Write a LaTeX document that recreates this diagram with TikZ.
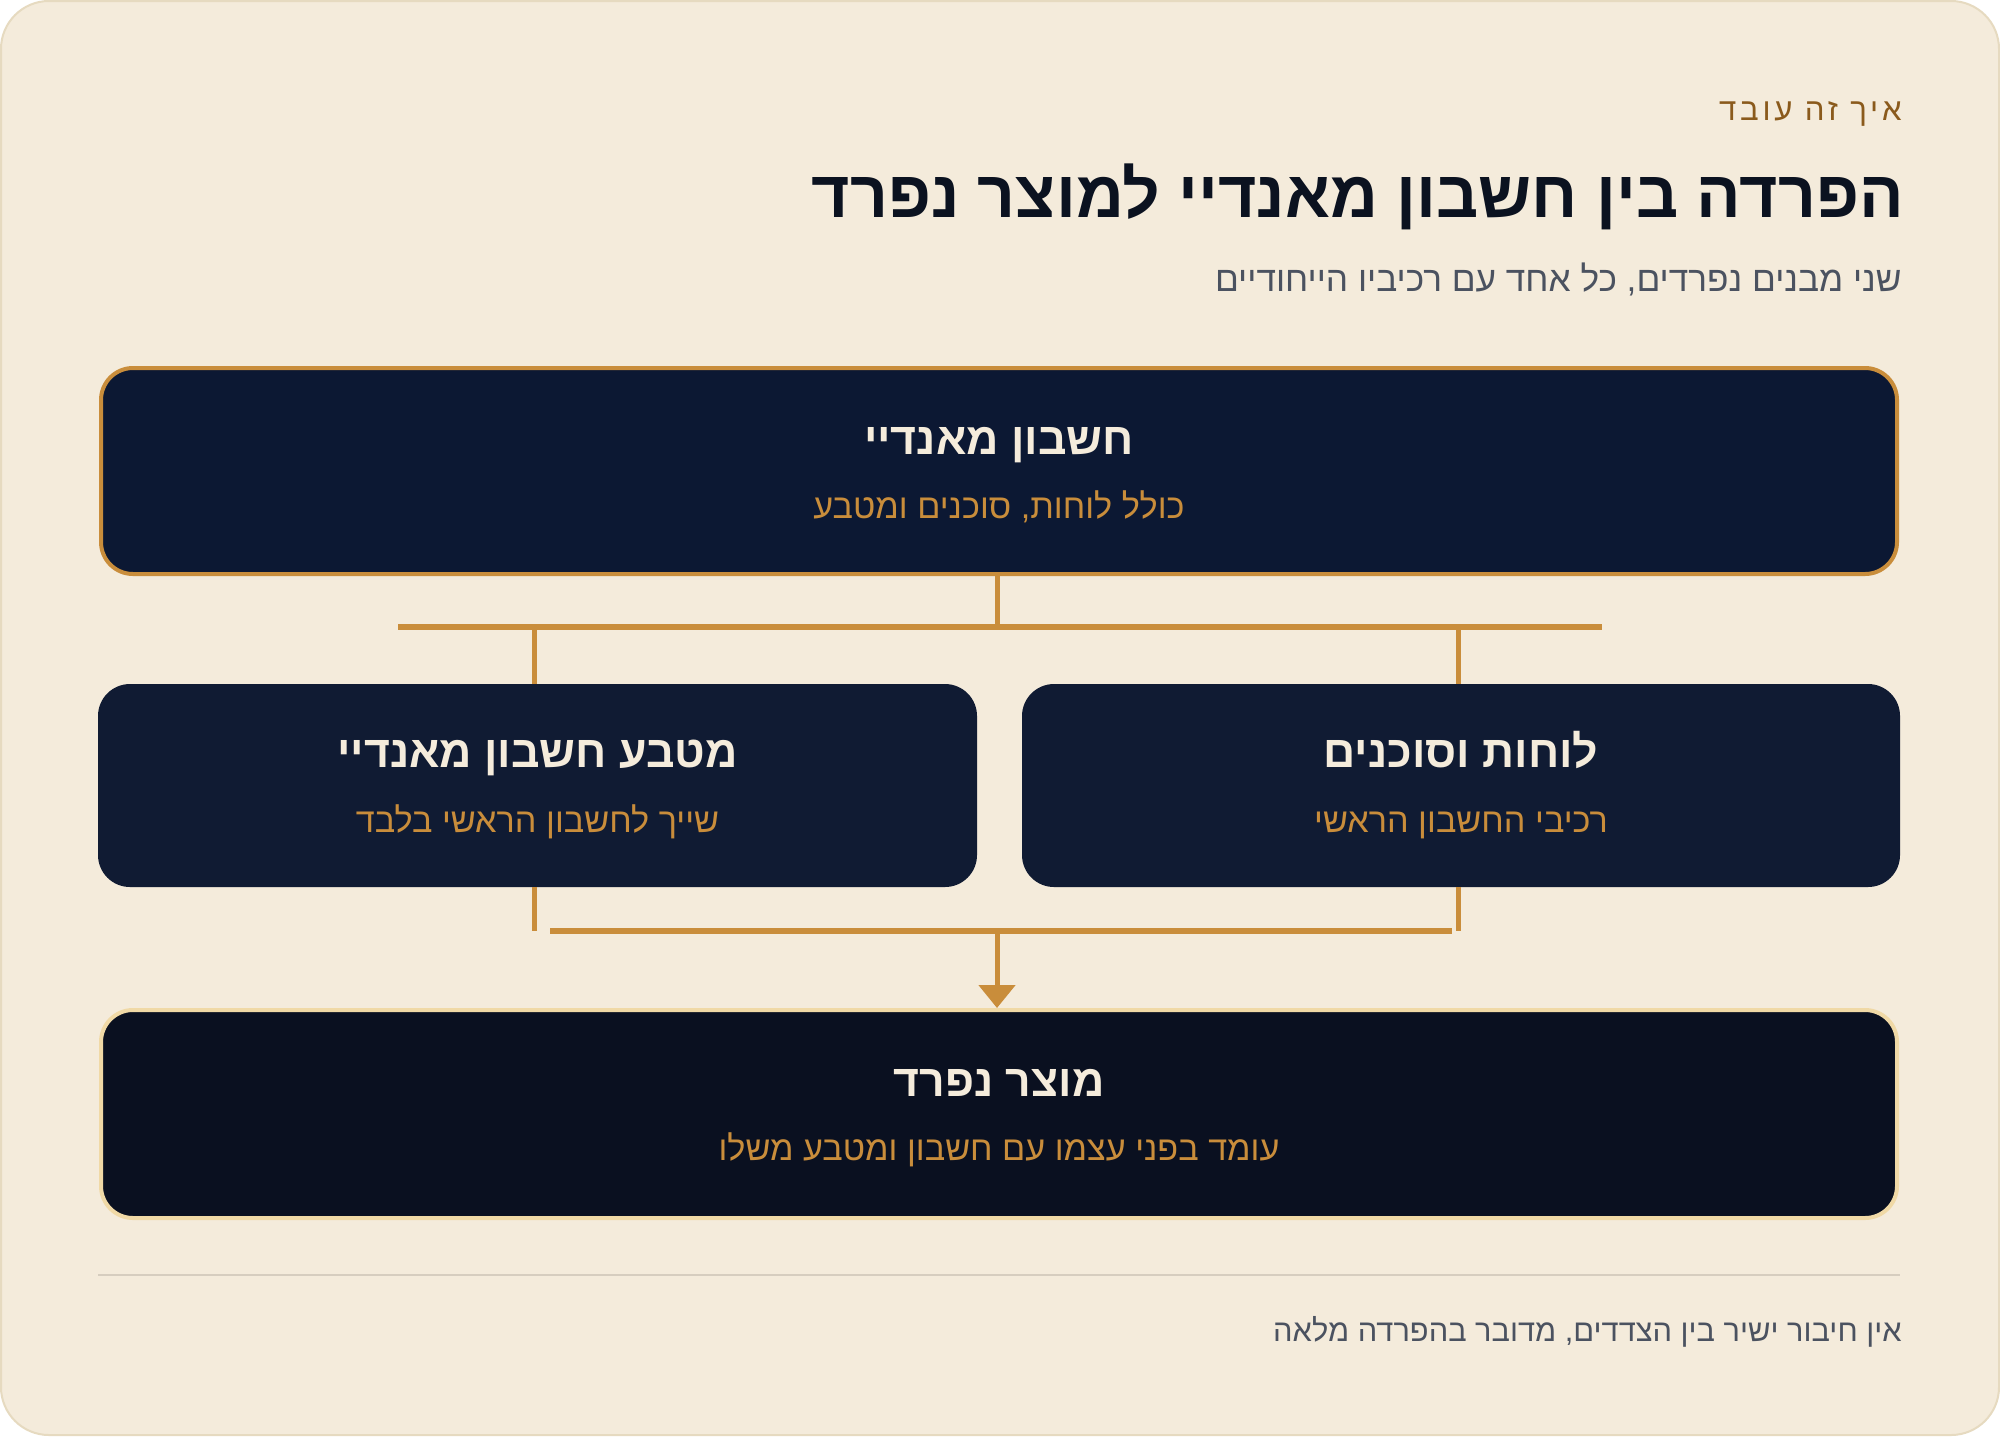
\documentclass[tikz,border=0pt]{standalone}
\usepackage{fontspec}
\setmainfont[Script=Hebrew]{Liberation Sans}
\newfontfamily\eyebrowfont[Script=Hebrew,LetterSpace=12]{Liberation Sans}
\TeXXeTstate=1
\usetikzlibrary{arrows.meta}

\definecolor{cardbg}{HTML}{F4EBDB}
\definecolor{cardline}{HTML}{E6DAC0}
\definecolor{navytop}{HTML}{0C1833}
\definecolor{navymid}{HTML}{101B33}
\definecolor{navylow}{HTML}{0A1020}
\definecolor{gold}{HTML}{C98D3B}
\definecolor{palegold}{HTML}{F0D9A6}
\definecolor{cream}{HTML}{F5ECDC}
\definecolor{slate}{HTML}{4B5260}
\definecolor{brown}{HTML}{8A5A1C}
\definecolor{ink}{HTML}{0B1220}
\definecolor{rulegray}{HTML}{D6CDBF}

\newcommand{\heb}[1]{\beginR #1\endR}

\tikzset{
  box/.style={rectangle, rounded corners=16pt, inner sep=0pt},
  boxtitle/.style={anchor=base, inner sep=0pt, text=cream, font=\fontsize{22.3}{26}\selectfont\bfseries},
  boxnote/.style={anchor=base, inner sep=0pt, text=gold, font=\fontsize{17.1}{20}\selectfont},
  link/.style={draw=gold, line width=2.5pt},
  bar/.style={draw=gold, line width=3pt},
}

\begin{document}
\begin{tikzpicture}[x=0.5pt, y=-0.5pt]
\useasboundingbox (0,0) rectangle (2000,1436);
\fill[white] (0,0) rectangle (2000,1436);
\draw[fill=cardbg, draw=cardline, line width=1pt, rounded corners=24pt] (1,1) rectangle (1999,1435);

% header
\node[anchor=base east, inner sep=0pt, text=brown, font=\eyebrowfont\fontsize{15.6}{18}\selectfont] (eyebrow) at (1902,120) {\heb{איך זה עובד}};
\node[anchor=base east, inner sep=0pt, text=ink, font=\fontsize{33}{38}\selectfont\bfseries] (title) at (1904,217) {\heb{הפרדה בין חשבון מאנדיי למוצר נפרד}};
\node[anchor=base east, inner sep=0pt, text=slate, font=\fontsize{17.6}{21}\selectfont] (subtitle) at (1902,291) {\heb{שני מבנים נפרדים, כל אחד עם רכיביו הייחודיים}};

% boxes
\node[box, fill=navytop, draw=gold, line width=2pt, minimum width=898pt, minimum height=103pt] (acct) at (999,471) {};
\node[box, fill=navymid, minimum width=439.5pt, minimum height=101.5pt] (currency) at (537.5,785.5) {};
\node[box, fill=navymid, minimum width=439pt, minimum height=101.5pt] (boards) at (1461,785.5) {};
\node[box, fill=navylow, draw=palegold, line width=2pt, minimum width=898pt, minimum height=104pt] (product) at (999,1114) {};

\node[boxtitle] (accttitle) at (999,454) {\heb{חשבון מאנדיי}};
\node[boxnote] (acctnote) at (999,518) {\heb{כולל לוחות, סוכנים ומטבע}};
\node[boxtitle] (currencytitle) at (537.5,767) {\heb{מטבע חשבון מאנדיי}};
\node[boxnote] (currencynote) at (537.5,832) {\heb{שייך לחשבון הראשי בלבד}};
\node[boxtitle] (boardstitle) at (1461,767) {\heb{לוחות וסוכנים}};
\node[boxnote] (boardsnote) at (1461,832) {\heb{רכיבי החשבון הראשי}};
\node[boxtitle] (producttitle) at (999,1096) {\heb{מוצר נפרד}};
\node[boxnote] (productnote) at (999,1160) {\heb{עומד בפני עצמו עם חשבון ומטבע משלו}};

% connectors
\coordinate (splitL) at (398,627);
\coordinate (splitR) at (1602,627);
\coordinate (joinL) at (550,931);
\coordinate (joinR) at (1452,931);
\draw[link] ([xshift=-1pt]acct.south) -- ([xshift=-1pt]acct.south |- splitL);
\draw[bar] (splitL) -- (splitR);
\draw[link] ([xshift=-1.5pt]currency.north |- splitL) -- ([xshift=-1.5pt]currency.north);
\draw[link] ([xshift=-1.5pt]boards.north |- splitR) -- ([xshift=-1.5pt]boards.north);
\draw[link] ([xshift=-1.5pt]currency.south) -- ([xshift=-1.5pt]currency.south |- joinL);
\draw[link] ([xshift=-1.5pt]boards.south) -- ([xshift=-1.5pt]boards.south |- joinR);
\draw[bar] (joinL) -- (joinR);
\draw[link, -{Triangle[width=18pt, length=11.5pt]}] ([xshift=-1pt]acct.south |- joinL) -- ([xshift=-1pt]product.north);

% footer
\draw[draw=rulegray, line width=1pt] (98,1275) -- (1900,1275);
\node[anchor=base east, inner sep=0pt, text=slate, font=\fontsize{15.4}{18}\selectfont] (footer) at (1902,1341) {\heb{אין חיבור ישיר בין הצדדים, מדובר בהפרדה מלאה}};
\end{tikzpicture}
\end{document}
